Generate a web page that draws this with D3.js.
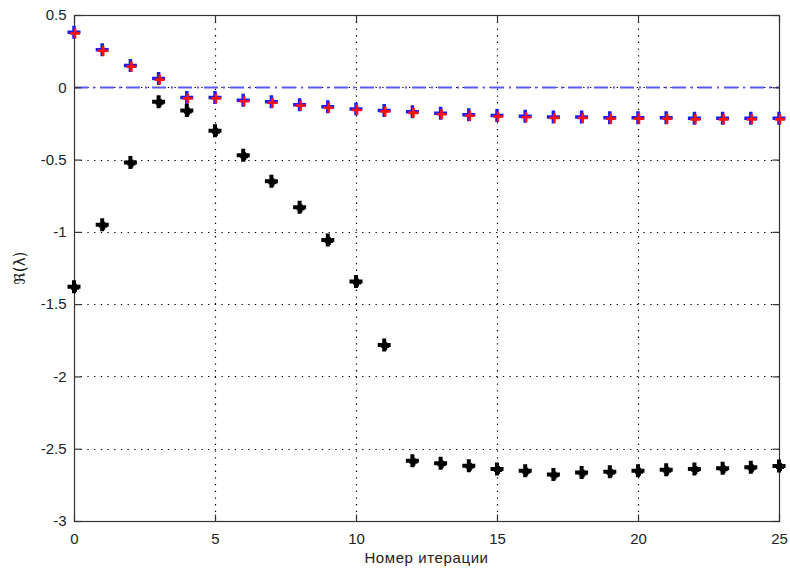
<!DOCTYPE html>
<html>
<head>
<meta charset="utf-8">
<script src="https://cdn.jsdelivr.net/npm/d3@7"></script>
<style>
	body { margin: 0; background: #fff; }
	text { font-family: "Liberation Sans", Arial, sans-serif; fill: #222; }
</style>
</head>
<body>
<div class="container"></div>
<script>
var iterations = d3.range(0, 26);
var upperValues = [0.38, 0.26, 0.15, 0.06, -0.07, -0.07, -0.09, -0.10, -0.12, -0.135, -0.15, -0.16, -0.17,
	-0.18, -0.19, -0.195, -0.20, -0.205, -0.205, -0.21, -0.21, -0.21, -0.215, -0.215, -0.215, -0.215];
var lowerValues = [-1.38, -0.95, -0.52, -0.10, -0.16, -0.30, -0.47, -0.65, -0.83, -1.056, -1.344, -1.782, -2.584,
	-2.60, -2.617, -2.64, -2.653, -2.678, -2.665, -2.66, -2.652, -2.645, -2.64, -2.635, -2.628, -2.62];
var xTicks = [0, 5, 10, 15, 20, 25];
var yTicks = [0.5, 0, -0.5, -1, -1.5, -2, -2.5, -3];

var chart = function() {
	function init() {
		var W = 790, H = 575;
		var left = 74, right = 779, top = 15, bottom = 521;

		var svg = d3.select('.container').append('svg')
			.attr('width', W)
			.attr('height', H);

		var x = d3.scaleLinear().domain([0, 25]).range([left, right]);
		var y = d3.scaleLinear().domain([-3, 0.5]).range([bottom, top]);

		// grid (dotted)
		var grid = svg.append('g').attr('stroke', '#000').attr('stroke-width', 1.2)
			.attr('stroke-dasharray', '1.3,5.4');
		grid.selectAll('.gx').data(xTicks.slice(1, -1)).enter().append('line')
			.attr('x1', function(d) { return Math.round(x(d)) + 0.5; })
			.attr('x2', function(d) { return Math.round(x(d)) + 0.5; })
			.attr('y1', top).attr('y2', bottom);
		grid.selectAll('.gy').data(yTicks.slice(1, -1)).enter().append('line')
			.attr('y1', function(d) { return Math.round(y(d)) + 0.5; })
			.attr('y2', function(d) { return Math.round(y(d)) + 0.5; })
			.attr('x1', left).attr('x2', right);

		// zero reference line, dash-dot
		svg.append('line')
			.attr('x1', x(0)).attr('x2', x(25))
			.attr('y1', Math.round(y(0)) + 0.5).attr('y2', Math.round(y(0)) + 0.5)
			.attr('stroke', '#5a5aff').attr('stroke-width', 2)
			.attr('stroke-dasharray', '14,5,2,5');

		// axes box
		svg.append('rect')
			.attr('x', left + 0.5).attr('y', top + 0.5)
			.attr('width', right - left).attr('height', bottom - top)
			.attr('fill', 'none').attr('stroke', '#333').attr('stroke-width', 1.2);

		// inward ticks on all sides
		var bottomAxis = d3.axisBottom(x).tickValues(xTicks).tickSizeInner(-7).tickSizeOuter(0)
			.tickPadding(12).tickFormat(d3.format('d'));
		var gb = svg.append('g').attr('transform', 'translate(0,' + (bottom + 0.5) + ')').call(bottomAxis);
		var topAxis = d3.axisTop(x).tickValues(xTicks).tickSizeInner(-7).tickSizeOuter(0).tickFormat('');
		var gt = svg.append('g').attr('transform', 'translate(0,' + (top + 0.5) + ')').call(topAxis);
		var leftAxis = d3.axisLeft(y).tickValues(yTicks).tickSizeInner(-7).tickSizeOuter(0)
			.tickPadding(8).tickFormat(function(d) { return String(d); });
		var gl = svg.append('g').attr('transform', 'translate(' + (left + 0.5) + ',0)').call(leftAxis);
		var rightAxis = d3.axisRight(y).tickValues(yTicks).tickSizeInner(-7).tickSizeOuter(0).tickFormat('');
		var gr = svg.append('g').attr('transform', 'translate(' + (right + 0.5) + ',0)').call(rightAxis);

		[gb, gt, gl, gr].forEach(function(g) {
			g.select('.domain').remove();
			g.selectAll('.tick line').attr('stroke', '#333').attr('stroke-width', 1.2);
			g.selectAll('.tick text').style('font-size', '15px')
				.style('font-family', '"Liberation Sans", Arial, sans-serif').attr('fill', '#222');
		});

		// plus markers
		function plus(g, cx, cy, size, width, color) {
			g.append('path')
				.attr('d', 'M' + (cx - size / 2) + ',' + cy + 'H' + (cx + size / 2) +
					'M' + cx + ',' + (cy - size / 2) + 'V' + (cy + size / 2))
				.attr('stroke', color).attr('stroke-width', width).attr('fill', 'none');
		}

		var marks = svg.append('g');
		lowerValues.forEach(function(v, i) {
			plus(marks, x(iterations[i]), y(v), 13, 4, '#000');
			plus(marks, x(iterations[i]) + 1, y(v) + 1, 8, 4, '#000');
		});
		upperValues.forEach(function(v, i) {
			plus(marks, x(iterations[i]), y(v), 13, 3.5, '#1a1aff');
		});
		upperValues.forEach(function(v, i) {
			plus(marks, x(iterations[i]) + 1, y(v) + 1, 10, 2.6, '#ff1010');
		});

		// axis labels
		svg.append('text')
			.attr('x', (left + right) / 2).attr('y', 563)
			.attr('text-anchor', 'middle')
			.style('font-size', '15px')
			.style('letter-spacing', '0.6px')
			.text('Номер итерации');

		svg.append('text')
			.attr('transform', 'translate(25,' + ((top + bottom) / 2) + ') rotate(-90)')
			.attr('text-anchor', 'middle')
			.style('font-size', '15px')
			.style('font-family', '"DejaVu Sans", sans-serif')
			.text('ℜ(λ)');
	}
	return Object.freeze({init: init});
};

var c = chart();
c.init();
</script>
</body>
</html>
